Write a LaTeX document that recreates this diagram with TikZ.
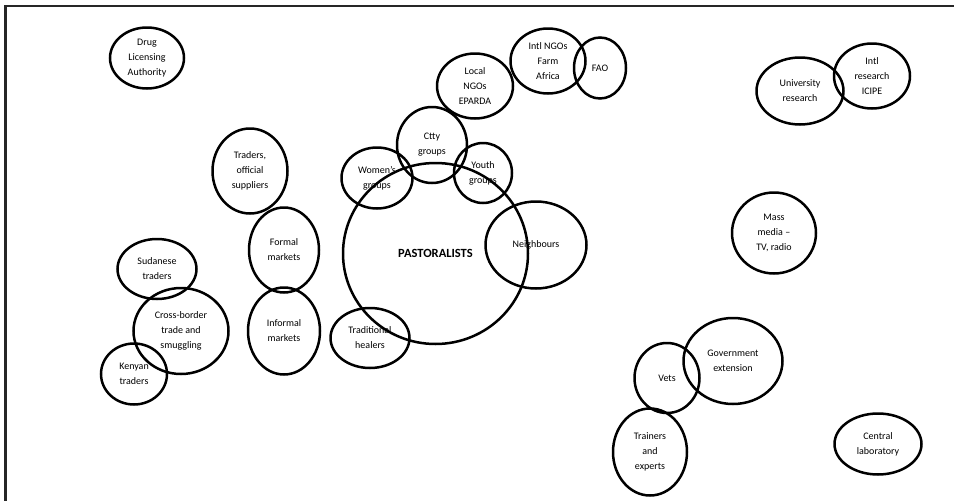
\documentclass[tikz,border=0pt]{standalone}
\usepackage{fontspec}
\setmainfont{Carlito}
\usetikzlibrary{shapes.geometric}
\tikzset{
  actor/.style={ellipse, draw, line width=2.5pt, inner sep=0pt, align=center,
    font=\fontsize{10}{15}\selectfont},
  core/.style={actor, font=\fontsize{12.5}{15}\selectfont\bfseries}
}
\begin{document}
\begin{tikzpicture}[x=1pt, y=-1pt]
    \useasboundingbox (0,0) rectangle (954,501);
    % frame
    \draw[line width=2.3pt, black!85] (5.5,501) -- (5.5,5.7) -- (954,5.7);
    % the pastoralists and their groups
    \node[core, minimum width=185pt, minimum height=181pt] (past) at (435.5,253.5) {PASTORALISTS};
    \node[actor, minimum width=71pt, minimum height=61pt] (women) at (377,178) {Women's\\groups};
    \node[actor, minimum width=70pt, minimum height=76pt] (ctty) at (432,145) {Ctty\\groups};
    \node[actor, minimum width=58pt, minimum height=60pt] (youth) at (483,173) {Youth\\groups};
    \node[actor, minimum width=101pt, minimum height=87pt] (neigh) at (536,245) {Neighbours};
    \node[actor, minimum width=79pt, minimum height=60pt] (healers) at (370,338) {Traditional\\healers};
    % NGOs
    \node[actor, minimum width=76pt, minimum height=65pt] (localngo) at (475,86) {Local\\NGOs\\EPARDA};
    \node[actor, minimum width=75pt, minimum height=65pt] (intlngo) at (548,61) {Intl NGOs\\Farm\\Africa};
    \node[actor, minimum width=52pt, minimum height=61pt] (fao) at (600,68) {FAO};
    % markets and trade
    \node[actor, minimum width=74pt, minimum height=61pt] (drug) at (147,58) {Drug\\Licensing\\Authority};
    \node[actor, minimum width=75pt, minimum height=85pt] (traders) at (250,171) {Traders,\\official\\suppliers};
    \node[actor, minimum width=70pt, minimum height=85pt] (formal) at (284,250) {Formal\\markets};
    \node[actor, minimum width=72pt, minimum height=87pt] (informal) at (284,331) {Informal\\markets};
    \node[actor, minimum width=79pt, minimum height=60pt] (sudan) at (157,269) {Sudanese\\traders};
    \node[actor, minimum width=95pt, minimum height=86pt] (cross) at (181,331) {Cross-border\\trade and\\smuggling};
    \node[actor, minimum width=66pt, minimum height=61pt] (kenya) at (134,374) {Kenyan\\traders};
    % research, media and services
    \node[actor, minimum width=87pt, minimum height=67pt] (univ) at (800,91) {University\\research};
    \node[actor, minimum width=76pt, minimum height=65pt] (icipe) at (872,76) {Intl\\research\\ICIPE};
    \node[actor, minimum width=84pt, minimum height=81pt] (media) at (774,233) {Mass\\media --\\TV, radio};
    \node[actor, minimum width=99pt, minimum height=86pt] (govt) at (733,361) {Government\\extension};
    \node[actor, minimum width=65pt, minimum height=70pt] (vets) at (667,378) {Vets};
    \node[actor, minimum width=74pt, minimum height=87pt] (trainers) at (650,452) {Trainers\\and\\experts};
    \node[actor, minimum width=87pt, minimum height=61pt] (lab) at (878,444) {Central\\laboratory};
\end{tikzpicture}
\end{document}
